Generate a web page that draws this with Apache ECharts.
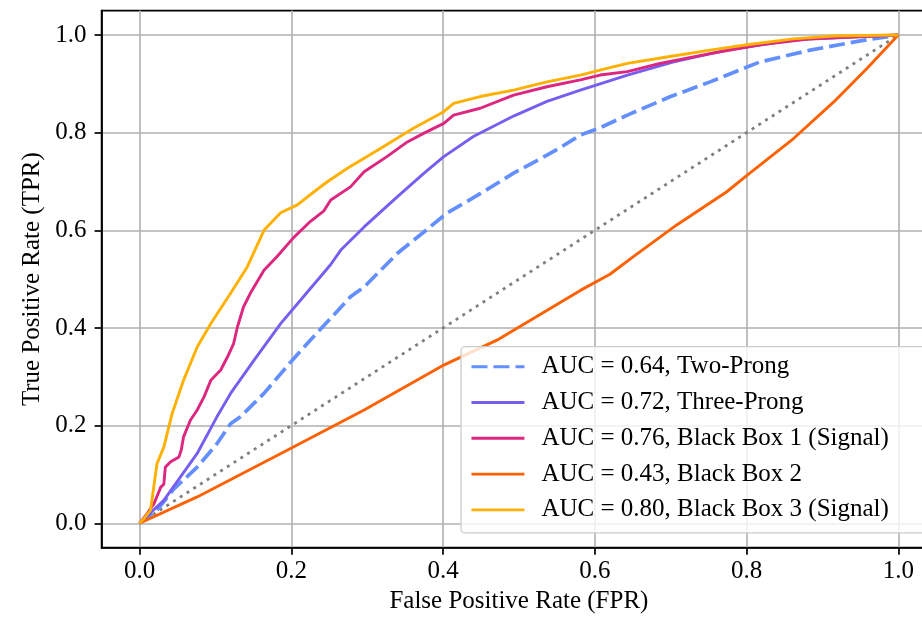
<!DOCTYPE html>
<html>
<head>
<meta charset="utf-8">
<script src="https://cdn.jsdelivr.net/npm/echarts@6/dist/echarts.min.js"></script>
<style>html,body{margin:0;padding:0;background:#fff;}#chart{width:922px;height:619px;}</style>
</head>
<body>
<div id="chart"></div>
<script>
// ---- data ----
const tickValues = [0, 0.2, 0.4, 0.6, 0.8, 1.0];

const twoProngFPR = [0, 0.023, 0.045, 0.076, 0.102, 0.12, 0.133, 0.164, 0.199, 0.225, 0.252, 0.278, 0.296, 0.34, 0.383, 0.405, 0.449, 0.493, 0.537, 0.555, 0.581, 0.607, 0.643, 0.70, 0.752, 0.818, 0.884, 0.95, 1.0];
const twoProngTPR = [0, 0.027, 0.070, 0.115, 0.163, 0.204, 0.218, 0.266, 0.330, 0.375, 0.420, 0.464, 0.484, 0.553, 0.607, 0.635, 0.675, 0.717, 0.754, 0.770, 0.795, 0.810, 0.836, 0.874, 0.904, 0.945, 0.969, 0.988, 1.0];

const threeProngFPR = [0, 0.015, 0.032, 0.054, 0.076, 0.102, 0.12, 0.151, 0.186, 0.216, 0.252, 0.265, 0.296, 0.34, 0.375, 0.401, 0.44, 0.493, 0.537, 0.581, 0.607, 0.643, 0.704, 0.774, 0.862, 0.928, 1.0];
const threeProngTPR = [0, 0.022, 0.047, 0.095, 0.143, 0.218, 0.266, 0.334, 0.409, 0.464, 0.530, 0.559, 0.607, 0.669, 0.717, 0.751, 0.792, 0.834, 0.864, 0.887, 0.900, 0.918, 0.945, 0.969, 0.990, 0.995, 1.0];

const bb1FPR = [0, 0.01, 0.019, 0.028, 0.032, 0.034, 0.041, 0.052, 0.055, 0.058, 0.067, 0.076, 0.085, 0.094, 0.107, 0.116, 0.124, 0.129, 0.137, 0.146, 0.164, 0.181, 0.203, 0.225, 0.243, 0.252, 0.278, 0.296, 0.326, 0.353, 0.375, 0.401, 0.414, 0.449, 0.493, 0.537, 0.581, 0.607, 0.643, 0.686, 0.752, 0.818, 0.884, 0.95, 1.0];
const bb1TPR = [0, 0.02, 0.040, 0.074, 0.080, 0.115, 0.126, 0.136, 0.150, 0.177, 0.211, 0.232, 0.259, 0.293, 0.314, 0.341, 0.368, 0.402, 0.443, 0.471, 0.518, 0.546, 0.585, 0.618, 0.640, 0.662, 0.689, 0.720, 0.751, 0.781, 0.799, 0.819, 0.836, 0.850, 0.877, 0.894, 0.908, 0.918, 0.925, 0.942, 0.962, 0.980, 0.992, 0.997, 1.0];

const bb2FPR = [0, 0.076, 0.199, 0.296, 0.401, 0.471, 0.581, 0.62, 0.65, 0.708, 0.774, 0.801, 0.862, 0.915, 0.959, 1.0];
const bb2TPR = [0, 0.054, 0.153, 0.232, 0.324, 0.375, 0.477, 0.510, 0.545, 0.611, 0.679, 0.713, 0.788, 0.863, 0.932, 1.0];

const bb3FPR = [0, 0.006, 0.0145, 0.023, 0.032, 0.043, 0.058, 0.076, 0.094, 0.12, 0.142, 0.164, 0.186, 0.208, 0.230, 0.247, 0.274, 0.318, 0.361, 0.401, 0.414, 0.449, 0.493, 0.537, 0.581, 0.607, 0.643, 0.695, 0.752, 0.801, 0.862, 0.915, 1.0];
const bb3TPR = [0, 0.010, 0.027, 0.122, 0.156, 0.225, 0.293, 0.361, 0.409, 0.471, 0.525, 0.600, 0.636, 0.652, 0.679, 0.699, 0.727, 0.768, 0.809, 0.843, 0.860, 0.874, 0.887, 0.904, 0.918, 0.928, 0.942, 0.955, 0.969, 0.980, 0.992, 0.998, 1.0];

const diagX = [0, 1];
const diagY = [0, 1];

const names = [
  'AUC = 0.64, Two-Prong',
  'AUC = 0.72, Three-Prong',
  'AUC = 0.76, Black Box 1 (Signal)',
  'AUC = 0.43, Black Box 2',
  'AUC = 0.80, Black Box 3 (Signal)'
];
const colors = ['#648FFF', '#785EF0', '#DC267F', '#FE6100', '#FFB000'];

// ---- build ----
const zip = (xs, ys) => xs.map((x, i) => [x, ys[i]]);
const FONT = 'Liberation Serif';

function lineSeries(name, xs, ys, color, extra) {
  return Object.assign({
    name: name,
    type: 'line',
    data: zip(xs, ys),
    symbol: 'none',
    showSymbol: false,
    smooth: false,
    lineStyle: { color: color, width: 2.9 },
    itemStyle: { color: color },
    emphasis: { disabled: true },
    animation: false
  }, extra || {});
}

const series = [
  {
    name: 'diag', type: 'line', data: zip(diagX, diagY), symbol: 'none',
    lineStyle: { color: '#808080', width: 2.8, type: [3, 5] },
    itemStyle: { color: '#808080' }, z: 1, silent: true, animation: false
  },
  lineSeries(names[0], twoProngFPR, twoProngTPR, colors[0], { lineStyle: { color: colors[0], width: 3.7, type: [16, 6] }, z: 2 }),
  lineSeries(names[1], threeProngFPR, threeProngTPR, colors[1], { z: 3 }),
  lineSeries(names[2], bb1FPR, bb1TPR, colors[2], { z: 4 }),
  lineSeries(names[3], bb2FPR, bb2TPR, colors[3], { z: 5 }),
  lineSeries(names[4], bb3FPR, bb3TPR, colors[4], { z: 6 })
];

const axisCommon = {
  type: 'value',
  min: -0.05,
  max: 1.05,
  axisLine: { show: true, onZero: false, lineStyle: { color: '#000', width: 1.7 } },
  axisTick: { show: true, inside: false, length: 7, customValues: tickValues, lineStyle: { color: '#000', width: 1.7 } },
  splitLine: { show: true, lineStyle: { color: '#b0b0b0', width: 1.6 } },
  axisLabel: {
    customValues: tickValues,
    formatter: v => v.toFixed(1),
    color: '#000', fontFamily: FONT, fontSize: 25
  },
  nameLocation: 'middle',
  nameTextStyle: { color: '#000', fontFamily: FONT, fontSize: 25 }
};

const chart = echarts.init(document.getElementById('chart'), null, { renderer: 'canvas' });
chart.setOption({
  animation: false,
  backgroundColor: '#fff',
  grid: {
    left: 101.6, top: 10.6, width: 834.6, height: 537.1,
    outerBoundsMode: 'none',
    show: true, borderColor: '#000', borderWidth: 1.7, backgroundColor: 'transparent',
    containLabel: false
  },
  xAxis: Object.assign({}, axisCommon, {
    name: 'False Positive Rate (FPR)', nameGap: 40,
    axisLabel: Object.assign({}, axisCommon.axisLabel, { margin: 11 })
  }),
  yAxis: Object.assign({}, axisCommon, {
    name: 'True Positive Rate (TPR)', nameGap: 52,
    axisLabel: Object.assign({}, axisCommon.axisLabel, { margin: 15 })
  }),
  legend: {
    data: names,
    orient: 'vertical',
    left: 461, top: 346.7,
    padding: [7, 60, 10, 9],
    itemWidth: 53, itemHeight: 14, itemGap: 9.8,
    backgroundColor: 'rgba(255,255,255,0.8)',
    borderColor: '#cccccc', borderWidth: 1.3, borderRadius: 4,
    lineStyle: { width: 2.9 },
    itemStyle: { opacity: 0, color: 'transparent', borderColor: 'transparent', borderWidth: 0 },
    formatter: n => '{t|' + n + '}',
    textStyle: {
      color: '#000', fontFamily: FONT, fontSize: 25, lineHeight: 26,
      rich: { t: { color: '#000', fontFamily: FONT, fontSize: 25, lineHeight: 26, padding: [0, 0, 0, 12] } }
    },
    selectedMode: false,
    z: 10
  },
  series: series
});
</script>
</body>
</html>
